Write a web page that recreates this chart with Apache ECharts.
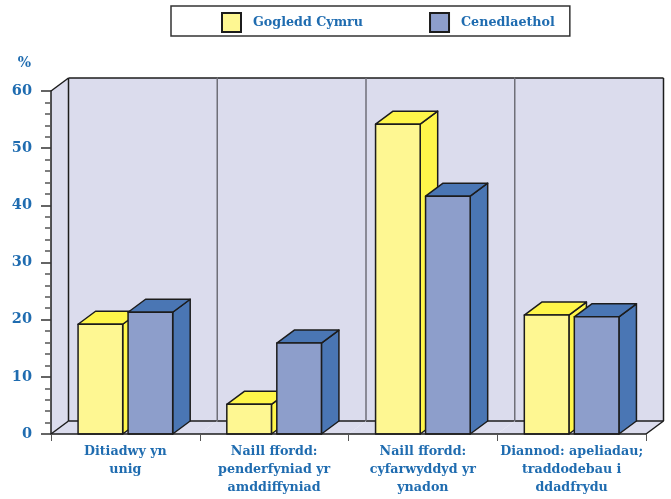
<!DOCTYPE html>
<html>
<head>
<meta charset="utf-8">
<style>html,body{margin:0;padding:0;background:#fff}#chart{width:671px;height:499px}</style>
<script src="https://cdn.jsdelivr.net/npm/echarts@6/dist/echarts.min.js"></script>
</head>
<body>
<div id="chart"></div>
<script>
var categories = ['Ditiadwy yn\nunig', 'Naill ffordd:\npenderfyniad yr\namddiffyniad', 'Naill ffordd:\ncyfarwyddyd yr\nynadon', 'Diannod: apeliadau;\ntraddodebau i\nddadfrydu'];
var gogledd = [19.2, 5.2, 54.2, 20.8];
var cenedlaethol = [21.3, 15.9, 41.6, 20.5];

var blue = '#1f6cb0';
var fontFamily = '"DejaVu Serif", serif';
var depthX = 17.5;
var depthY = 13;
var wallColor = '#dbdced';
var edge = '#1c1c1c';

var chart = echarts.init(document.getElementById('chart'));

function poly(points, fill, z2) {
  return {
    type: 'polygon',
    z2: z2 || 0,
    shape: { points: points },
    style: { fill: fill, stroke: edge, lineWidth: 1.5, lineJoin: 'round' }
  };
}

function line(x1, y1, x2, y2, color, width) {
  return {
    type: 'line',
    shape: { x1: x1, y1: y1, x2: x2, y2: y2 },
    style: { stroke: color, lineWidth: width }
  };
}

// one wall and floor panel per category
function renderWall(params, api) {
  var i = api.value(0);
  var band = api.size([1, 0])[0];
  var left = api.coord([i, 0])[0] - band / 2;
  var right = left + band;
  var bottom = api.coord([i, 0])[1];
  var top = api.coord([i, 60])[1];
  var dx = depthX, dy = depthY;
  var plain = { fill: wallColor, stroke: null };
  var kids = [
    { type: 'polygon', shape: { points: [[left + dx, top - dy], [right + dx, top - dy], [right + dx, bottom - dy], [left + dx, bottom - dy]] }, style: plain },
    { type: 'polygon', shape: { points: [[left, bottom], [right, bottom], [right + dx, bottom - dy], [left + dx, bottom - dy]] }, style: plain },
    line(left + dx, top - dy, right + dx, top - dy, edge, 1.5),
    line(left + dx, bottom - dy, right + dx, bottom - dy, edge, 1.5)
  ];
  if (i === 0) {
    kids.push({ type: 'polygon', shape: { points: [[left, top], [left + dx, top - dy], [left + dx, bottom - dy], [left, bottom]] }, style: plain });
    kids.push(line(left, top, left + dx, top - dy, edge, 1.5));
    kids.push(line(left, bottom, left + dx, bottom - dy, edge, 1.5));
    kids.push(line(left + dx, top - dy, left + dx, bottom - dy, edge, 1.5));
  } else {
    kids.push(line(left + dx, top - dy, left + dx, bottom - dy, '#6f6f78', 1.5));
  }
  if (i === categories.length - 1) {
    kids.push(line(right + dx, top - dy, right + dx, bottom - dy, edge, 1.5));
    kids.push(line(right, bottom, right + dx, bottom - dy, edge, 1.5));
  }
  return { type: 'group', children: kids };
}

function barRenderer(offset, front, side) {
  return function (params, api) {
    var i = api.value(0);
    var p = api.coord([i, api.value(1)]);
    var base = api.coord([i, 0]);
    var w = api.size([1, 0])[0] * 0.3;
    var x0 = p[0] + offset - w / 2;
    var x1 = x0 + w;
    var dx = depthX, dy = depthY;
    return {
      type: 'group',
      children: [
        poly([[x1, p[1]], [x1 + dx, p[1] - dy], [x1 + dx, base[1] - dy], [x1, base[1]]], side),
        poly([[x0, p[1]], [x0 + dx, p[1] - dy], [x1 + dx, p[1] - dy], [x1, p[1]]], side),
        poly([[x0, p[1]], [x1, p[1]], [x1, base[1]], [x0, base[1]]], front)
      ]
    };
  };
}

function pairs(arr) {
  return arr.map(function (v, i) { return [i, v]; });
}

var option = {
  animation: false,
  textStyle: { fontFamily: fontFamily },
  legend: {
    data: ['Gogledd Cymru', 'Cenedlaethol'],
    left: 171,
    top: 6,
    padding: [6, 15, 3, 50],
    itemWidth: 19,
    itemHeight: 19,
    itemGap: 66,
    borderColor: '#333',
    borderWidth: 1.5,
    icon: 'rect',
    textStyle: { color: blue, fontFamily: fontFamily, fontWeight: 'bold', fontSize: 12.7, padding: [0, 0, 0, 7] }
  },
  grid: { left: 51, top: 91, width: 595, height: 343 },
  xAxis: {
    type: 'category',
    data: categories,
    axisLine: { lineStyle: { color: edge, width: 1.5 } },
    axisTick: { show: true, length: 7, lineStyle: { color: '#555', width: 1 } },
    axisLabel: {
      color: blue, fontFamily: fontFamily, fontWeight: 'bold', fontSize: 12.7,
      lineHeight: 18, margin: 9, interval: 0, align: 'center'
    },
    z: 5
  },
  yAxis: {
    type: 'value',
    min: 0,
    max: 60,
    interval: 10,
    name: '%',
    nameLocation: 'end',
    nameGap: 21,
    nameTextStyle: { color: blue, fontFamily: fontFamily, fontWeight: 'bold', fontSize: 14, align: 'right', padding: [0, 20, 0, 0] },
    splitLine: { show: false },
    axisLine: { show: true, lineStyle: { color: edge, width: 1.5 } },
    axisTick: { show: true, length: 10, lineStyle: { color: '#333', width: 1.5 } },
    minorTick: { show: true, splitNumber: 5, length: 6, lineStyle: { color: '#555', width: 1.5 } },
    axisLabel: { color: blue, fontFamily: fontFamily, fontWeight: 'bold', fontSize: 14.5, margin: 19 },
    z: 5
  },
  series: [
    {
      name: 'wall', type: 'custom', silent: true, clip: false, z: 1,
      encode: { x: 0, y: 1 },
      renderItem: renderWall,
      data: pairs(categories.map(function () { return 0; }))
    },
    {
      name: 'Gogledd Cymru', type: 'custom', clip: false, z: 3,
      encode: { x: 0, y: 1 },
      itemStyle: { color: '#fef792', borderColor: edge, borderWidth: 1.5 },
      renderItem: barRenderer(-25, '#fef792', '#fff64a'),
      data: pairs(gogledd)
    },
    {
      name: 'Cenedlaethol', type: 'custom', clip: false, z: 4,
      encode: { x: 0, y: 1 },
      itemStyle: { color: '#8d9ecb', borderColor: edge, borderWidth: 1.5 },
      renderItem: barRenderer(25, '#8d9ecb', '#4a76b4'),
      data: pairs(cenedlaethol)
    }
  ]
};

chart.setOption(option);
</script>
</body>
</html>
